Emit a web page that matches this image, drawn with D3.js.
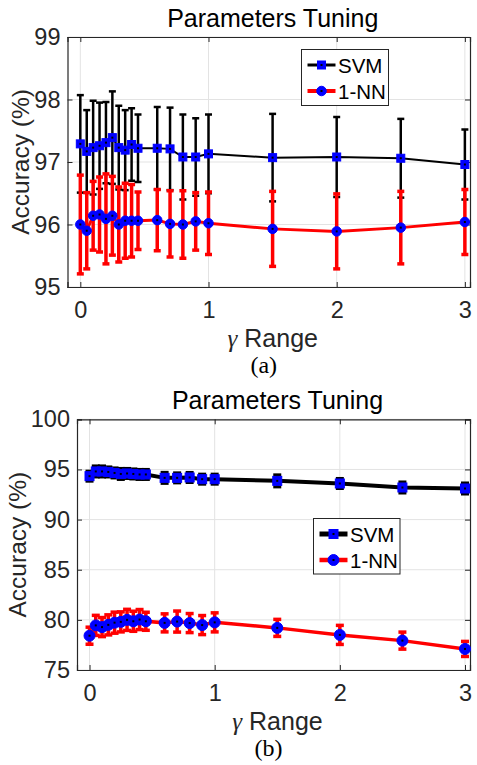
<!DOCTYPE html>
<html>
<head>
<meta charset="utf-8">
<script src="https://cdn.jsdelivr.net/npm/d3@7"></script>
<style>
  body { margin: 0; background: #fff; }
  svg text { font-family: "Liberation Sans", Arial, sans-serif; }
</style>
</head>
<body>
<div id="canvas"></div>
<script>
// gamma values (shared by both panels)
var gamma = [0, 0.05, 0.1, 0.15, 0.2, 0.25, 0.3, 0.35, 0.4, 0.45, 0.6, 0.7, 0.8, 0.9, 1, 1.5, 2, 2.5, 3];

// panel (a)
var svmA    = [97.29, 97.17, 97.23, 97.26, 97.31, 97.39, 97.23, 97.19, 97.28, 97.22, 97.22, 97.21, 97.08, 97.08, 97.13, 97.07, 97.08, 97.06, 96.96];
var svmAErr = [0.78, 0.66, 0.75, 0.69, 0.65, 0.74, 0.67, 0.64, 0.58, 0.54, 0.66, 0.66, 0.68, 0.62, 0.63, 0.70, 0.64, 0.63, 0.56];
var knnA    = [96.00, 95.90, 96.14, 96.16, 96.09, 96.14, 96.00, 96.06, 96.06, 96.06, 96.07, 96.01, 96.00, 96.05, 96.02, 95.93, 95.89, 95.95, 96.04];
var knnAErr = [0.79, 0.61, 0.55, 0.60, 0.72, 0.63, 0.60, 0.60, 0.58, 0.46, 0.49, 0.53, 0.54, 0.46, 0.50, 0.60, 0.60, 0.58, 0.52];

// panel (b)
var svmB    = [94.33, 94.80, 94.80, 94.75, 94.65, 94.55, 94.60, 94.55, 94.50, 94.50, 94.16, 94.16, 94.20, 94.03, 94.03, 93.86, 93.60, 93.20, 93.10];
var svmBErr = [0.50, 0.55, 0.55, 0.50, 0.50, 0.55, 0.50, 0.50, 0.50, 0.50, 0.55, 0.50, 0.50, 0.50, 0.50, 0.60, 0.50, 0.55, 0.55];
var knnB    = [78.42, 79.45, 79.28, 79.50, 79.72, 79.80, 80.00, 79.86, 80.03, 79.86, 79.70, 79.83, 79.68, 79.48, 79.75, 79.20, 78.50, 77.93, 77.10];
var knnBErr = [0.85, 1.00, 0.95, 1.00, 1.05, 1.00, 1.05, 1.00, 1.00, 0.90, 0.90, 1.05, 0.95, 0.95, 0.95, 0.85, 0.95, 0.85, 0.75];

var xTicks = [0, 1, 2, 3];
var yTicksA = [95, 96, 97, 98, 99];
var yTicksB = [75, 80, 85, 90, 95, 100];
var seriesNames = ['SVM', '1-NN'];

var W = 477, H = 765;
var svg = d3.select('#canvas').append('svg')
    .attr('width', W)
    .attr('height', H);

function zip(v, e) {
  return gamma.map(function(g, i) { return {x: g, y: v[i], e: e[i]}; });
}

function drawPanel(p) {
  var x = d3.scaleLinear().domain([-0.1, 3.04]).range([p.l, p.r]);
  var y = d3.scaleLinear().domain(p.yDomain).range([p.b, p.t]);
  var g = svg.append('g');
  var axisCol = '#262626';

  // grid
  g.selectAll('.gx').data(xTicks).enter().append('line')
    .attr('x1', function(d) { return x(d); }).attr('x2', function(d) { return x(d); })
    .attr('y1', p.t).attr('y2', p.b)
    .attr('stroke', '#e3e3e3').attr('stroke-width', 1);
  g.selectAll('.gy').data(p.yTicks).enter().append('line')
    .attr('y1', function(d) { return y(d); }).attr('y2', function(d) { return y(d); })
    .attr('x1', p.l).attr('x2', p.r)
    .attr('stroke', '#e3e3e3').attr('stroke-width', 1);

  // axes (MATLAB style: inward ticks, box on)
  var ax = d3.axisBottom(x).tickValues(xTicks).tickSize(-5).tickPadding(14).tickFormat(d3.format('d'));
  var ay = d3.axisLeft(y).tickValues(p.yTicks).tickSize(-5).tickPadding(7).tickFormat(d3.format('d'));
  var axT = d3.axisTop(x).tickValues(xTicks).tickSize(-5).tickFormat('');
  var ayR = d3.axisRight(y).tickValues(p.yTicks).tickSize(-5).tickFormat('');

  [[ax, 'translate(0,' + p.b + ')'], [ay, 'translate(' + p.l + ',0)'],
   [axT, 'translate(0,' + p.t + ')'], [ayR, 'translate(' + p.r + ',0)']].forEach(function(a) {
    var ga = g.append('g').attr('transform', a[1]).call(a[0]);
    ga.select('.domain').attr('stroke', axisCol).attr('stroke-width', 1.2);
    ga.selectAll('.tick line').attr('stroke', axisCol);
    ga.selectAll('.tick text').attr('fill', axisCol).attr('font-size', 23.5)
      .style('font-family', '"Liberation Sans", Arial, sans-serif');
  });

  var line = d3.line().x(function(d) { return x(d.x); }).y(function(d) { return y(d.y); });

  function series(data, col, lw, ew, cap, marker, msz) {
    var s = g.append('g');
    // error bars
    var eb = s.selectAll('.eb').data(data).enter().append('g');
    eb.append('line')
      .attr('x1', function(d) { return x(d.x); }).attr('x2', function(d) { return x(d.x); })
      .attr('y1', function(d) { return y(d.y - d.e); }).attr('y2', function(d) { return y(d.y + d.e); })
      .attr('stroke', col).attr('stroke-width', ew);
    [-1, 1].forEach(function(sgn) {
      eb.append('line')
        .attr('x1', function(d) { return x(d.x) - cap; }).attr('x2', function(d) { return x(d.x) + cap; })
        .attr('y1', function(d) { return y(d.y + sgn * d.e); }).attr('y2', function(d) { return y(d.y + sgn * d.e); })
        .attr('stroke', col).attr('stroke-width', ew);
    });
    s.append('path').datum(data).attr('d', line)
      .attr('fill', 'none').attr('stroke', col).attr('stroke-width', lw);
    drawMarkers(s, data.map(function(d) { return [x(d.x), y(d.y)]; }), marker, msz);
  }

  function drawMarkers(sel, pts, marker, msz) {
    if (marker === 'sq') {
      sel.selectAll('.mk').data(pts).enter().append('rect')
        .attr('x', function(d) { return d[0] - msz / 2; }).attr('y', function(d) { return d[1] - msz / 2; })
        .attr('width', msz).attr('height', msz)
        .attr('fill', '#0000ff').attr('stroke', '#0000ff').attr('stroke-width', 1);
    } else {
      sel.selectAll('.mk').data(pts).enter().append('circle')
        .attr('cx', function(d) { return d[0]; }).attr('cy', function(d) { return d[1]; })
        .attr('r', msz / 2)
        .attr('fill', '#0000ff').attr('stroke', '#0000ff').attr('stroke-width', 1);
    }
    sel.selectAll('.dot').data(pts).enter().append('rect')
      .attr('x', function(d) { return d[0] - 1; }).attr('y', function(d) { return d[1] - 1; })
      .attr('width', 2).attr('height', 2).attr('fill', '#000');
  }

  series(zip(p.svm, p.svmErr), '#000', p.svmLw, p.svmEw, p.cap, 'sq', p.sqSize);
  series(zip(p.knn, p.knnErr), '#ff0000', p.knnLw, p.knnEw, p.cap, 'ci', p.ciSize);

  // titles and labels
  g.append('text').attr('x', (p.l + p.r) / 2 + 4).attr('y', p.t - 10)
    .attr('text-anchor', 'middle').attr('font-size', 25).attr('fill', '#000')
    .text('Parameters Tuning');
  var xl = g.append('text').attr('x', (p.l + p.r) / 2 + 4).attr('y', p.b + 60)
    .attr('text-anchor', 'middle').attr('font-size', 25).attr('fill', axisCol);
  xl.append('tspan').style('font-family', '"Liberation Serif", "Times New Roman", serif')
    .attr('font-style', 'italic').text('\u03b3');
  xl.append('tspan').text(' Range');
  g.append('text').attr('transform', 'translate(' + p.ylx + ',' + ((p.t + p.b) / 2) + ') rotate(-90)')
    .attr('text-anchor', 'middle').attr('font-size', 24.5).attr('fill', axisCol)
    .text('Accuracy (%)');
  g.append('text').attr('x', (p.l + p.r) / 2 - 5).attr('y', p.b + 86)
    .attr('text-anchor', 'middle').attr('font-size', 24).attr('fill', '#000')
    .style('font-family', '"Liberation Serif", "Times New Roman", serif')
    .text(p.tag);

  // legend
  var lg = g.append('g').attr('transform', 'translate(' + p.lgx + ',' + p.lgy + ')');
  lg.append('rect').attr('x', 0).attr('y', 0).attr('width', p.lgw).attr('height', p.lgh)
    .attr('fill', '#fff').attr('stroke', axisCol).attr('stroke-width', 1);
  var rows = [{name: seriesNames[0], col: '#000', lw: p.svmLw + 1, mk: 'sq', sz: p.sqSize},
              {name: seriesNames[1], col: '#ff0000', lw: p.knnLw + 1, mk: 'ci', sz: p.ciSize}];
  rows.forEach(function(r, i) {
    var yy = 15.5 + i * 26;
    lg.append('line').attr('x1', 6).attr('x2', 34).attr('y1', yy).attr('y2', yy)
      .attr('stroke', r.col).attr('stroke-width', r.lw);
    drawMarkers(lg.append('g'), [[20, yy]], r.mk, r.sz);
    lg.append('text').attr('x', 36.5).attr('y', yy + 7.5).attr('font-size', 20.5).attr('fill', '#000')
      .text(r.name);
  });
}

drawPanel({
  l: 67.5, r: 470, t: 37, b: 287, yDomain: [95, 99], yTicks: yTicksA,
  svm: svmA, svmErr: svmAErr, knn: knnA, knnErr: knnAErr,
  svmLw: 2, svmEw: 2.5, knnLw: 3, knnEw: 3.5, cap: 3.5, sqSize: 8, ciSize: 9.5,
  ylx: 29, tag: '(a)', lgx: 301.5, lgy: 49.5, lgw: 87, lgh: 56
});

drawPanel({
  l: 77, r: 470, t: 419.3, b: 670, yDomain: [75, 100], yTicks: yTicksB,
  svm: svmB, svmErr: svmBErr, knn: knnB, knnErr: knnBErr,
  svmLw: 4, svmEw: 3, knnLw: 3.5, knnEw: 3.5, cap: 4, sqSize: 9, ciSize: 11,
  ylx: 26, tag: '(b)', lgx: 313.5, lgy: 518.5, lgw: 86.5, lgh: 55.5
});
</script>
</body>
</html>
